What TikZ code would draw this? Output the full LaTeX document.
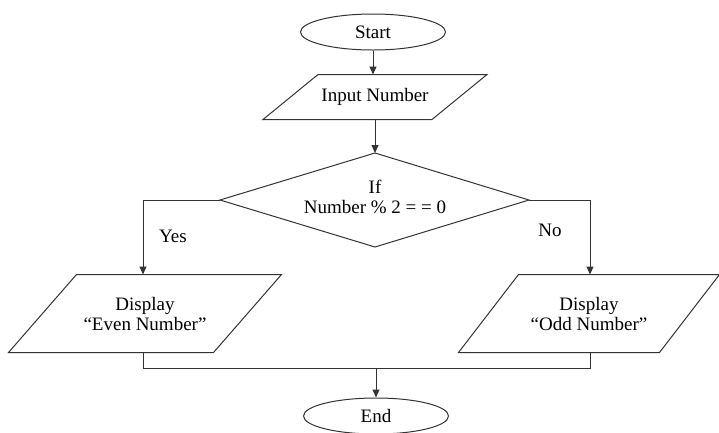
\documentclass[tikz,border=0pt]{standalone}
\usepackage{fontspec}
\setmainfont{Liberation Serif}
\usetikzlibrary{shapes.geometric,arrows.meta,calc}
\begin{document}
\begin{tikzpicture}[x=1pt,y=-1pt,
  line width=1pt,
  every node/.style={font=\fontsize{19}{20}\selectfont, align=center},
  ln/.style={draw=black!80},
  arr/.style={ln,-{Triangle[length=8pt,width=7pt]}},
  term/.style={ellipse,draw=black!80,minimum width=145pt,minimum height=36pt,inner sep=0pt},
  iobox/.style={draw=none,inner sep=0pt}
]
\useasboundingbox (0,0) rectangle (719,432);

% terminals
\node[term] (start) at (373,32) {Start};
\node[term] (end) at (376,416) {End};

% input parallelogram
\node[iobox,minimum width=168pt,minimum height=44pt] (input) at (375,97) {Input Number};
\draw[ln] ($(input.north west)+(27.5,0)$) -- ($(input.north east)+(27.5,0)$)
  -- ($(input.south east)+(-27.5,0)$) -- ($(input.south west)+(-27.5,0)$) -- cycle;

% decision
\node[iobox] (dec) at (375,197) {If\\Number \% 2 = = 0};
\coordinate (dtop) at (375,153);
\coordinate (dleft) at (220,200);
\coordinate (dright) at (529,200);
\coordinate (dbot) at (375,247);
\draw[ln] (dtop) -- (dright) -- (dbot) -- (dleft) -- cycle;

% even
\node[iobox,minimum width=204pt,minimum height=77pt] (even) at (145,313.5) {Display\\``Even Number''};
\draw[ln] ($(even.north west)+(34,0)$) -- ($(even.north east)+(34,0)$)
  -- ($(even.south east)+(-34,0)$) -- ($(even.south west)+(-34,0)$) -- cycle;

% odd
\node[iobox,minimum width=200pt,minimum height=77pt] (odd) at (589,313.5) {Display\\``Odd Number''};
\draw[ln] ($(odd.north west)+(30,0)$) -- ($(odd.north east)+(30,0)$)
  -- ($(odd.south east)+(-30,0)$) -- ($(odd.south west)+(-30,0)$) -- cycle;

% connectors
\draw[arr] (start.south) -- (start.south |- input.north);
\draw[arr] (input.south) -- (dtop);
\draw[arr] (dleft) -| (143,0 |- even.north);
\draw[arr] (dright) -| (590,0 |- odd.north);
\coordinate (join) at (376,368);
\draw[ln] (143,0 |- even.south) |- (join) -| (590,0 |- odd.south);
\draw[arr] (join) -- (end.north);

% labels
\node (yes) at (173,236) {Yes};
\node (no) at (550,230) {No};
\end{tikzpicture}
\end{document}
